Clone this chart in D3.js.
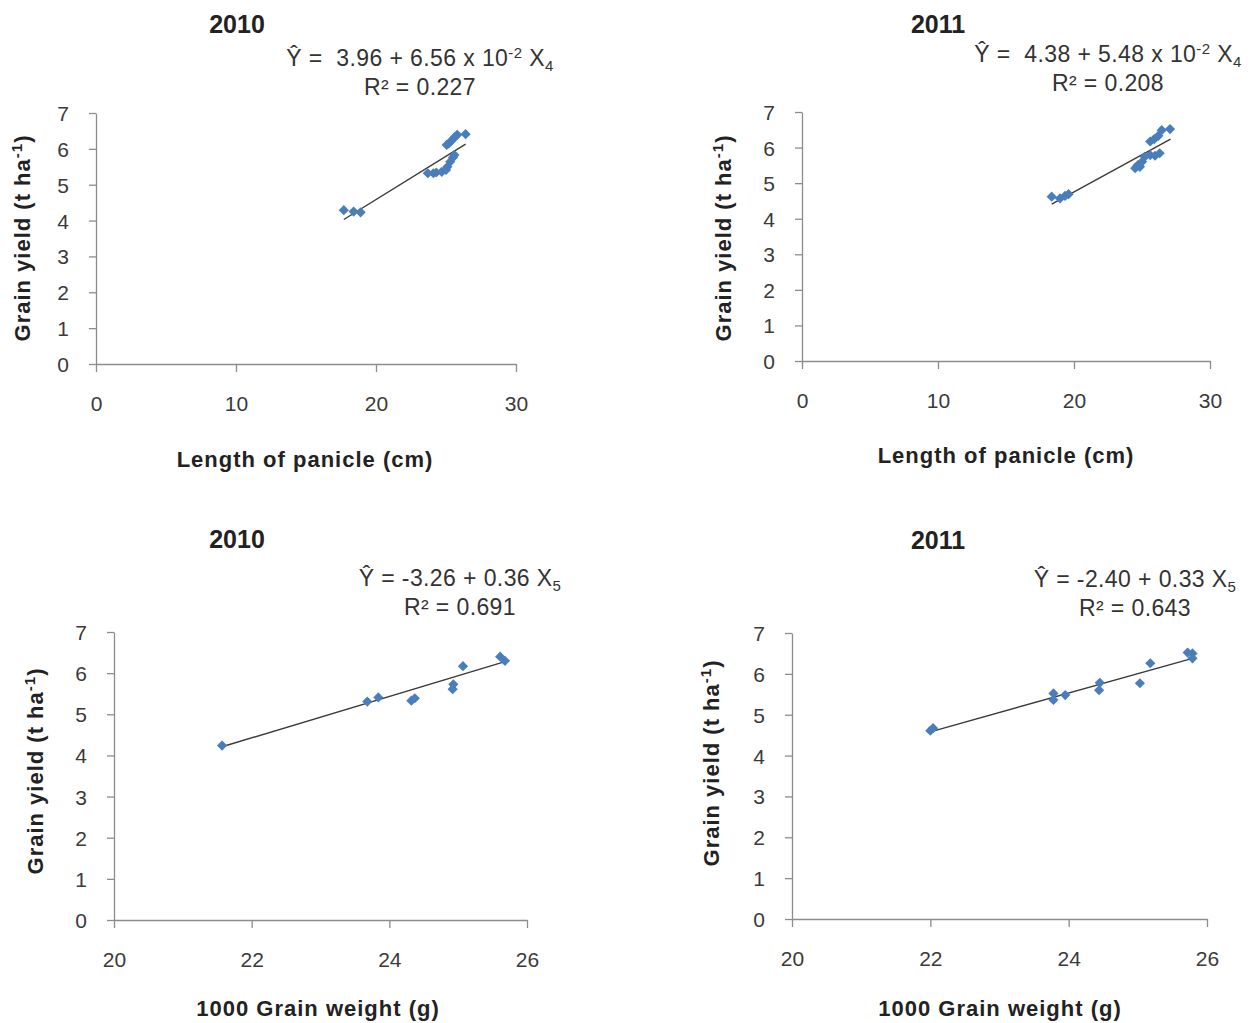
<!DOCTYPE html>
<html>
<head>
<meta charset="utf-8">
<script src="https://cdn.jsdelivr.net/npm/d3@7"></script>
<style>
  body { margin: 0; background: #fff; }
  text { font-family: "Liberation Sans", Arial, sans-serif; }
  .tick text { fill: #3a3a3a; font-size: 21px; }
  .domain, .tick line { stroke: #8c8c8c; stroke-width: 1.3; }
</style>
</head>
<body>
<svg id="chart" width="1253" height="1023"></svg>
<script>
//Panel titles and equations
const titles = ["2010", "2011", "2010", "2011"]
const eqIntercepts = ["3.96", "4.38", "-3.26", "-2.40"]
const eqSlopes = ["6.56", "5.48", "0.36", "0.33"]
const eqR2 = ["0.227", "0.208", "0.691", "0.643"]
const xTitles = ["Length of panicle (cm)", "Length of panicle (cm)", "1000 Grain weight (g)", "1000 Grain weight (g)"]

//Tick values
const yTicks = [0, 1, 2, 3, 4, 5, 6, 7]
const xTicksPanicle = [0, 10, 20, 30]
const xTicksWeight = [20, 22, 24, 26]

//Length of panicle vs grain yield, 2010
const panicle2010X = [17.7, 18.4, 18.9, 23.7, 24.1, 24.3, 24.7, 25.0, 25.1, 25.3, 25.5, 25.6, 25.05, 25.2, 25.4, 25.6, 25.8, 26.4]
const panicle2010Y = [4.29, 4.25, 4.23, 5.32, 5.32, 5.34, 5.36, 5.41, 5.5, 5.64, 5.76, 5.83, 6.11, 6.15, 6.23, 6.32, 6.39, 6.41]
const panicle2010Line = [[17.7, 4.03], [26.4, 6.13]]

//Length of panicle vs grain yield, 2011
const panicle2011X = [18.36, 18.97, 19.34, 19.6, 24.5, 24.7, 24.85, 25.0, 25.2, 25.6, 25.96, 26.3, 25.6, 25.9, 26.2, 26.45, 27.06]
const panicle2011Y = [4.62, 4.57, 4.64, 4.69, 5.42, 5.51, 5.46, 5.6, 5.74, 5.79, 5.77, 5.84, 6.17, 6.24, 6.33, 6.49, 6.52]
const panicle2011Line = [[18.36, 4.41], [27.1, 6.24]]

//1000 grain weight vs grain yield, 2010
const weight2010X = [21.57, 23.68, 23.84, 24.32, 24.37, 24.92, 24.93, 25.07, 25.61, 25.68]
const weight2010Y = [4.24, 5.31, 5.41, 5.33, 5.39, 5.61, 5.73, 6.17, 6.40, 6.30]
const weight2010Line = [[21.57, 4.21], [25.68, 6.28]]

//1000 grain weight vs grain yield, 2011
const weight2011X = [22.0, 22.04, 23.78, 23.78, 23.95, 24.45, 24.44, 25.03, 25.18, 25.72, 25.79, 25.79]
const weight2011Y = [4.61, 4.67, 5.52, 5.36, 5.48, 5.78, 5.6, 5.77, 6.26, 6.52, 6.5, 6.38]
const weight2011Line = [[22.0, 4.58], [25.79, 6.38]]

const svg = d3.select("#chart")

//Layout of each panel (plot area + where the texts go)
const panels = [
  {xs: panicle2010X, ys: panicle2010Y, line: panicle2010Line, xDomain: [0, 30], xTicks: xTicksPanicle,
   left: 96, top: 113, width: 420, height: 251, titleX: 237, titleY: 33, eqX: 420, eqY: 66, supSub: "4",
   xTitleX: 305, xTitleY: 467, yTitleX: 30, yTitleY: 238},
  {xs: panicle2011X, ys: panicle2011Y, line: panicle2011Line, xDomain: [0, 30], xTicks: xTicksPanicle,
   left: 802, top: 112, width: 408, height: 249, titleX: 938, titleY: 33, eqX: 1108, eqY: 62, supSub: "4",
   xTitleX: 1006, xTitleY: 463, yTitleX: 731, yTitleY: 238},
  {xs: weight2010X, ys: weight2010Y, line: weight2010Line, xDomain: [20, 26], xTicks: xTicksWeight,
   left: 114, top: 632, width: 413, height: 288, titleX: 237, titleY: 548, eqX: 460, eqY: 586, supSub: "5",
   xTitleX: 318, xTitleY: 1016, yTitleX: 43, yTitleY: 771},
  {xs: weight2011X, ys: weight2011Y, line: weight2011Line, xDomain: [20, 26], xTicks: xTicksWeight,
   left: 792, top: 633, width: 415, height: 286, titleX: 938, titleY: 549, eqX: 1135, eqY: 587, supSub: "5",
   xTitleX: 1000, xTitleY: 1016, yTitleX: 719, yTitleY: 763}
]

panels.forEach(function(p, i) {
  const x = d3.scaleLinear().domain(p.xDomain).range([p.left, p.left + p.width])
  const y = d3.scaleLinear().domain([0, 7]).range([p.top + p.height, p.top])

  //axes
  svg.append("g")
     .attr("transform", "translate(0," + (p.top + p.height) + ")")
     .call(d3.axisBottom(x).tickValues(p.xTicks).tickFormat(d3.format("d")).tickSize(8).tickSizeOuter(0).tickPadding(24))

  svg.append("g")
     .attr("transform", "translate(" + p.left + ",0)")
     .call(d3.axisLeft(y).tickValues(yTicks).tickFormat(d3.format("d")).tickSize(7).tickSizeOuter(0).tickPadding(20))
     .selectAll(".tick text").attr("dy", "0.36em")

  //trend line
  svg.append("line")
     .attr("x1", x(p.line[0][0])).attr("y1", y(p.line[0][1]))
     .attr("x2", x(p.line[1][0])).attr("y2", y(p.line[1][1]))
     .attr("stroke", "#3a3a3a").attr("stroke-width", 1.4)

  //diamonds
  const pts = p.xs.map(function(v, j) { return {x: v, y: p.ys[j]} })
  svg.selectAll(".pt" + i)
     .data(pts)
     .enter()
     .append("path")
     .attr("d", d3.symbol().type(d3.symbolSquare).size(52))
     .attr("transform", function(d) { return "translate(" + x(d.x) + "," + y(d.y) + ") rotate(45)" })
     .attr("fill", "#4a7ebb")

  //title
  svg.append("text")
     .attr("x", p.titleX).attr("y", p.titleY)
     .attr("text-anchor", "middle")
     .attr("font-size", 25).attr("font-weight", "bold").attr("fill", "#222")
     .text(titles[i])

  //equation
  const eq = svg.append("text")
     .attr("x", p.eqX).attr("y", p.eqY)
     .attr("text-anchor", "middle")
     .attr("font-size", 23).attr("fill", "#333")
     .attr("letter-spacing", 0.4)
     .style("white-space", "pre")
  if (i < 2) {
    eq.append("tspan").text("Ŷ =  " + eqIntercepts[i] + " + " + eqSlopes[i] + " x 10")
    eq.append("tspan").attr("font-size", 15).attr("dy", -8).text("-2")
    eq.append("tspan").attr("dy", 8).text(" X")
  } else {
    eq.append("tspan").text("Ŷ = " + eqIntercepts[i] + " + " + eqSlopes[i] + " X")
  }
  eq.append("tspan").attr("font-size", 15).attr("dy", 5).text(p.supSub)

  svg.append("text")
     .attr("x", p.eqX).attr("y", p.eqY + 29)
     .attr("text-anchor", "middle")
     .attr("font-size", 23).attr("fill", "#333")
     .attr("letter-spacing", 0.4)
     .text("R² = " + eqR2[i])

  //axis titles
  svg.append("text")
     .attr("x", p.xTitleX).attr("y", p.xTitleY)
     .attr("text-anchor", "middle")
     .attr("font-size", 22).attr("font-weight", "bold").attr("fill", "#222")
     .attr("letter-spacing", 1)
     .text(xTitles[i])

  const yt = svg.append("text")
     .attr("transform", "translate(" + p.yTitleX + "," + p.yTitleY + ") rotate(-90)")
     .attr("text-anchor", "middle")
     .attr("font-size", 22).attr("font-weight", "bold").attr("fill", "#222")
     .attr("letter-spacing", 1)
  yt.append("tspan").text("Grain yield (t ha")
  yt.append("tspan").attr("font-size", 15).attr("dy", -8).text("-1")
  yt.append("tspan").attr("dy", 8).text(")")
})
</script>
</body>
</html>
